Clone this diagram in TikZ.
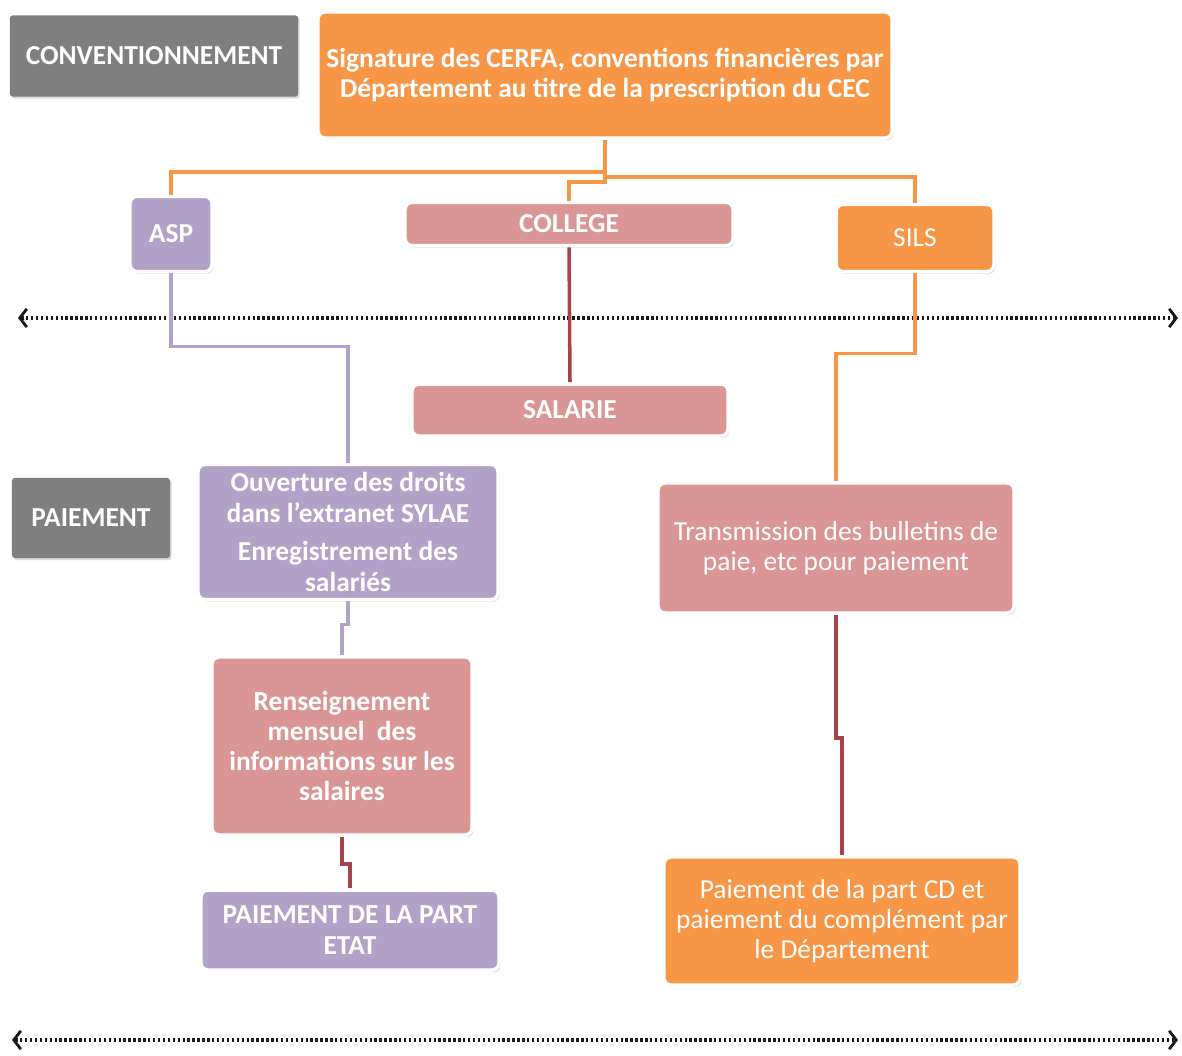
\documentclass[tikz,border=0pt]{standalone}
\usepackage{fontspec}
\setmainfont{Carlito}
\usetikzlibrary{arrows.meta,positioning,shadows}
\definecolor{Gris}{HTML}{7F7F7F}
\definecolor{Orange}{HTML}{F79646}
\definecolor{Rose}{HTML}{D99694}
\definecolor{Mauve}{HTML}{B3A2C7}
\definecolor{Brique}{HTML}{A8434B}
\definecolor{Encre}{HTML}{1A1A1A}

\begin{document}
\begin{tikzpicture}[x=0.025cm,y=-0.025cm,
  boite/.style={draw=white, line width=2.5pt, rounded corners=5pt, text=white,
    align=center, inner sep=2pt, font=\fontsize{19.5}{21.5}\selectfont,
    drop shadow={opacity=0.3, shadow xshift=1.2pt, shadow yshift=-1.5pt}},
  gras/.style={boite, font=\fontsize{19.5}{21.5}\selectfont\bfseries},
  etape/.style={gras, fill=Gris, draw=none, rounded corners=2pt},
  lienO/.style={Orange, line width=2.5pt},
  lienM/.style={Mauve, line width=2.5pt},
  lienB/.style={Brique, line width=2.5pt},
  frise/.style={Encre, line width=2.7pt, dash pattern=on 1.7pt off 1.8pt,
    {Straight Barb[length=5pt,width=13pt,line width=2pt]}-{Straight Barb[length=5pt,width=13pt,line width=2pt]}}]
  \useasboundingbox (0,0) rectangle (1182,1056);

  % repères
  \coordinate (g1) at (18,318);
  \coordinate (d1) at (1178,318);
  \coordinate (g2) at (12,1040);
  \coordinate (d2) at (1178,1040);
  \draw[frise] (g1) -- (d1);
  \draw[frise] (g2) -- (d2);

  % conventionnement
  \node[etape, minimum width=7.2cm, minimum height=2.03cm] (conv) at (154,56) {CONVENTIONNEMENT};
  \node[gras, fill=Orange, minimum width=14.35cm, minimum height=3.15cm] (haut) at (605,75)
    {Signature des CERFA, conventions financières par\\Département au titre de la prescription du CEC};
  \node[gras, fill=Mauve, minimum width=2.05cm, minimum height=1.88cm] (asp) at (171,234) {ASP};
  \node[gras, fill=Rose, minimum width=8.2cm, minimum height=1.08cm] (college) at (569,224) {COLLEGE};
  \node[boite, fill=Orange, minimum width=3.95cm, minimum height=1.68cm] (sils) at (915,238) {SILS};
  \node[gras, fill=Rose, minimum width=7.9cm, minimum height=1.3cm] (salarie) at (570,410) {SALARIE};

  % paiement
  \node[etape, minimum width=3.95cm, minimum height=2.0cm] (paie) at (91,518) {PAIEMENT};
  \node[gras, fill=Mauve, minimum width=7.5cm, minimum height=3.38cm] (ouv) at (348,532)
    {Ouverture des droits\\dans l’extranet SYLAE\\[6pt]Enregistrement des\\salariés};
  \node[boite, fill=Rose, minimum width=8.9cm, minimum height=3.25cm] (trans) at (836,548)
    {Transmission des bulletins de\\paie, etc pour paiement};
  \node[gras, fill=Rose, minimum width=6.5cm, minimum height=4.45cm] (rens) at (342,746)
    {Renseignement\\mensuel\ \ des\\informations sur les\\salaires};
  \node[gras, fill=Mauve, minimum width=7.45cm, minimum height=2.0cm] (etat) at (350,930)
    {PAIEMENT DE LA PART\\ETAT};
  \node[boite, fill=Orange, minimum width=8.9cm, minimum height=3.2cm] (cd) at (842,921)
    {Paiement de la part CD et\\paiement du complément par\\le Département};

  % liens
  \draw[lienO] (haut.south) -- ++(0,32) -| (asp.north);
  \draw[lienO] (haut.south) -- ++(0,37) -| (sils.north);
  \draw[lienO] (haut.south) -- ++(0,42) -| (college.north);
  \draw[lienB] (college.south) -- (salarie.north);
  \draw[lienM] (asp.south) -- ++(0,73) -| (ouv.north);
  \draw[lienO] (sils.south) -- ++(0,80) -| (trans.north);
  \draw[lienM] (ouv.south) -- ++(0,23) -| (rens.north);
  \draw[lienB] (rens.south) -- ++(0,27) -| (etat.north);
  \draw[lienB] (trans.south) -- ++(0,123) -| (cd.north);
\end{tikzpicture}
\end{document}
